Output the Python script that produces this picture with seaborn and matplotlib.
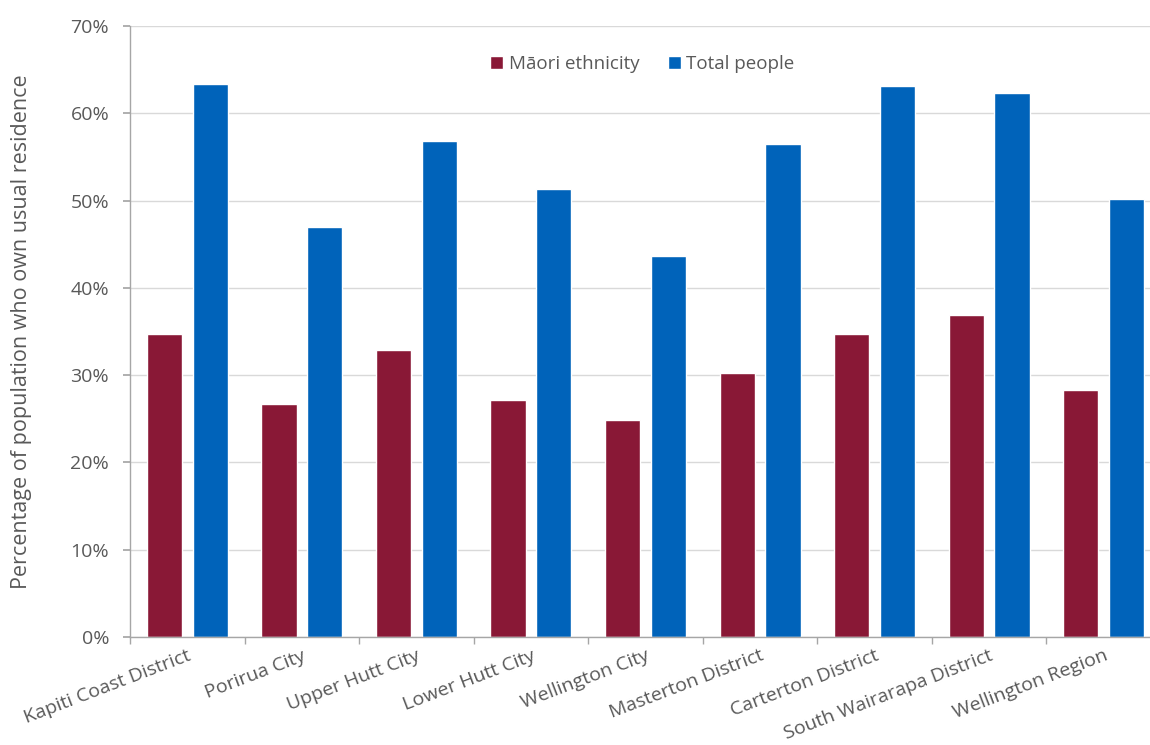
import matplotlib
matplotlib.use("Agg")
import matplotlib.pyplot as plt
import matplotlib.ticker as mticker
import seaborn as sns
import pandas as pd
import numpy as np

categories = ["Kapiti Coast District", "Porirua City", "Upper Hutt City", "Lower Hutt City",
              "Wellington City", "Masterton District", "Carterton District",
              "South Wairarapa District", "Wellington Region"]
series_names = ["Māori ethnicity", "Total people"]
maori = [34.7, 26.7, 32.9, 27.1, 24.9, 30.3, 34.7, 36.9, 28.3]
total = [63.4, 47.0, 56.8, 51.3, 43.6, 56.5, 63.1, 62.3, 50.2]
y_ticks = [0, 10, 20, 30, 40, 50, 60, 70]

df = pd.DataFrame({
    "Area": categories * 2,
    "Series": [series_names[0]] * len(categories) + [series_names[1]] * len(categories),
    "Value": maori + total,
})

sns.set_theme(style="white")
plt.rcParams['font.family'] = ['Open Sans', 'DejaVu Sans']
text_color = "#595959"

fig = plt.figure(figsize=(11.5, 7.45), dpi=100)
ax = fig.add_axes([130/1150, (745-637)/745, 1031/1150, 611/745])

sns.barplot(data=df, x="Area", y="Value", hue="Series", ax=ax,
            palette=["#891836", "#0063BA"], width=0.8, gap=0.23,
            saturation=1, legend=True)

ax.set_ylim(0, 70)
ax.set_xlim(-0.5, len(categories) - 0.5)
ax.set_yticks(y_ticks)
ax.yaxis.set_major_formatter(mticker.FuncFormatter(lambda v, p: f"{int(v)}%"))
ax.yaxis.grid(True, color="#d9d9d9", linewidth=1)
ax.set_axisbelow(True)

for s in ["top", "right"]:
    ax.spines[s].set_visible(False)
for s in ["left", "bottom"]:
    ax.spines[s].set_color("#a6a6a6")
    ax.spines[s].set_linewidth(1)

ax.tick_params(axis="y", which="major", length=5, color="#a6a6a6", left=True,
               labelsize=14, labelcolor=text_color, pad=10)
ax.tick_params(axis="x", which="major", length=0, labelsize=14, labelcolor=text_color, pad=7)
ax.set_xticks(np.arange(-0.5, len(categories), 1), minor=True)
ax.tick_params(axis="x", which="minor", length=5, color="#a6a6a6", bottom=True)
for lab in ax.get_xticklabels():
    lab.set_rotation(21)
    lab.set_ha("right")
    lab.set_rotation_mode("anchor")

ax.set_xlabel("")
ax.set_ylabel("Percentage of population who own usual residence", fontsize=15.5,
              color=text_color)
ax.yaxis.set_label_coords(-0.095, 0.5)

leg = ax.legend(loc="center", bbox_to_anchor=(0.497, 0.938), ncol=2, frameon=False,
                fontsize=13.5, handlelength=0.7, handleheight=0.7, handletextpad=0.3,
                columnspacing=1.5)
for t in leg.get_texts():
    t.set_color(text_color)
leg.set_title(None)

fig.savefig("out.png", dpi=100)
